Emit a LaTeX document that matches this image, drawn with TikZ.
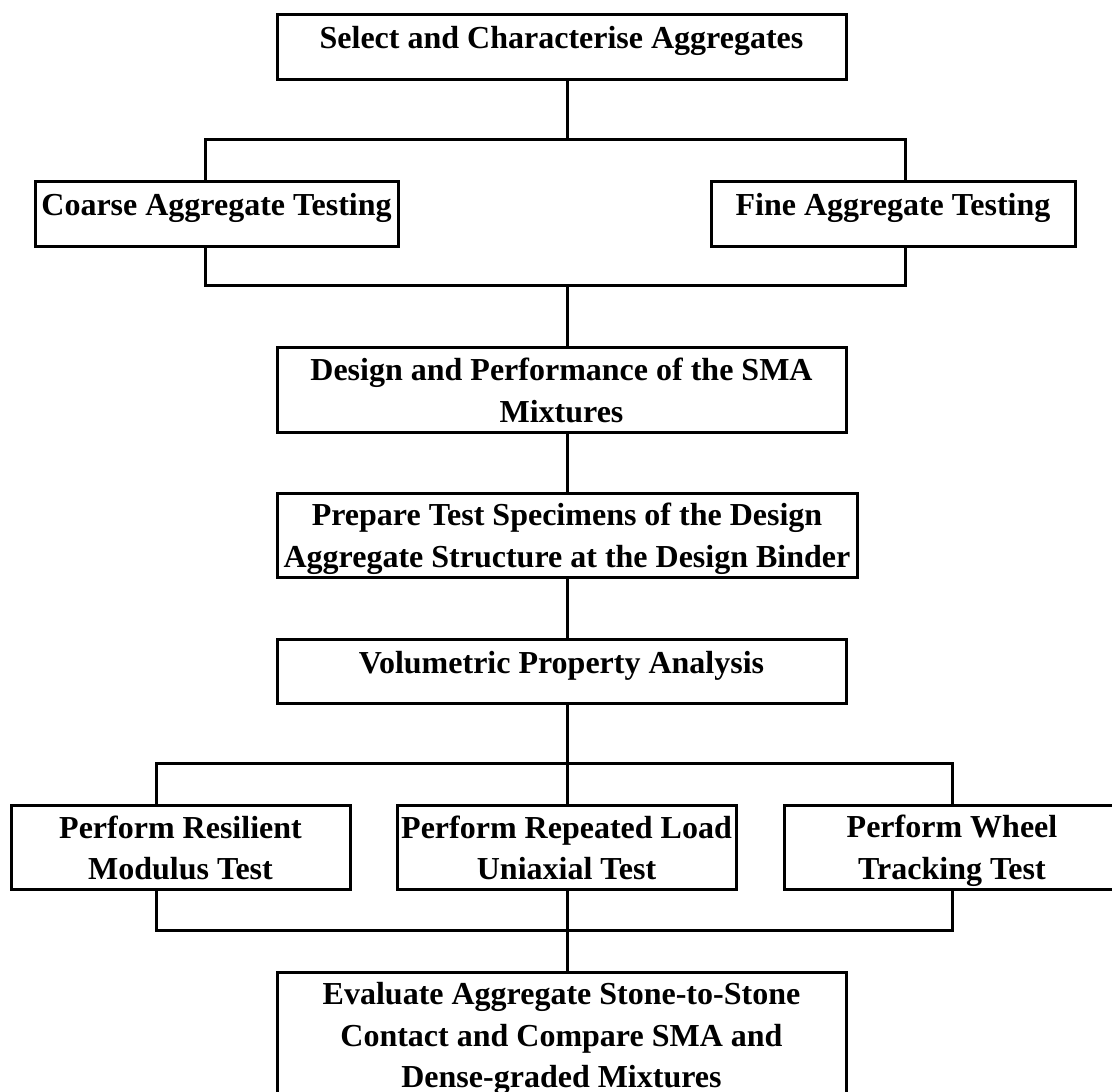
\documentclass[tikz,border=0pt]{standalone}
\usepackage{fontspec}
\setmainfont{Liberation Serif}
% uniform line strut so that every text line has the same height and depth
\newcommand\lnstrut{\rule[-6.5pt]{0pt}{36.5pt}}
\begin{document}
\begin{tikzpicture}[x=1pt,y=-1pt,
  stepbox/.style={draw=black,line width=3pt,rectangle,inner sep=2pt,
    align=center,font=\bfseries\fontsize{32}{41.5}\selectfont},
  oneline/.style={stepbox,text height=24pt,text depth=20pt},
  link/.style={line width=3pt,line cap=rect}]
\useasboundingbox (0,0) rectangle (1112,1092);
\fill[white] (0,0) rectangle (1112,1092);

% process boxes
\node[oneline,minimum width=569pt,minimum height=65pt] (select) at (561.5,46.5)
  {Select and Characterise Aggregates};
\node[oneline,minimum width=363pt,minimum height=65pt] (coarse) at (216.5,213.5)
  {Coarse Aggregate Testing};
\node[oneline,minimum width=364pt,minimum height=65pt] (fine) at (893,213.5)
  {Fine Aggregate Testing};
\node[stepbox,minimum width=569pt,minimum height=85pt] (design) at (561.5,389.5)
  {\lnstrut Design and Performance of the SMA\\\lnstrut Mixtures};
\node[stepbox,minimum width=580pt,minimum height=84pt] (prepare) at (567,535)
  {\lnstrut Prepare Test Specimens of the Design\\\lnstrut Aggregate Structure at the Design Binder};
\node[oneline,minimum width=569pt,minimum height=64pt] (volume) at (561.5,671)
  {Volumetric Property Analysis};
\node[stepbox,minimum width=339pt,minimum height=84pt] (resil) at (180.5,847)
  {\lnstrut Perform Resilient\\\lnstrut Modulus Test};
\node[stepbox,minimum width=339pt,minimum height=84pt] (repeat) at (566.5,847)
  {\lnstrut Perform Repeated Load\\\lnstrut Uniaxial Test};
\node[stepbox,minimum width=336pt,minimum height=84pt] (wheel) at (952,847)
  {\lnstrut Perform Wheel\\\lnstrut Tracking Test};
\node[stepbox,minimum width=569pt,minimum height=126pt] (evaluate) at (561.5,1035)
  {\lnstrut Evaluate Aggregate Stone-to-Stone\\\lnstrut Contact and Compare SMA and\\\lnstrut Dense-graded Mixtures};

% junction points of the branching bars
\coordinate (s1) at (567,139);
\coordinate (s1l) at (205,139);
\coordinate (s1r) at (905,139);
\coordinate (m1) at (567,285);
\coordinate (m1l) at (205,285);
\coordinate (m1r) at (905,285);
\coordinate (s2) at (567,763);
\coordinate (s2l) at (156,763);
\coordinate (s2r) at (952,763);
\coordinate (m2) at (567,930);
\coordinate (m2l) at (156,930);
\coordinate (m2r) at (952,930);

% connectors
\draw[link] (s1 |- select.south) -- (s1);
\draw[link] (coarse.north -| s1l) -- (s1l) -- (s1r) -- (fine.north -| s1r);
\draw[link] (coarse.south -| m1l) -- (m1l) -- (m1r) -- (fine.south -| m1r);
\draw[link] (m1) -- (m1 |- design.north);
\draw[link] (design.south -| m1) -- (prepare.north -| m1);
\draw[link] (prepare.south -| m1) -- (volume.north -| m1);
\draw[link] (volume.south -| s2) -- (s2);
\draw[link] (resil.north -| s2l) -- (s2l) -- (s2r) -- (wheel.north -| s2r);
\draw[link] (s2) -- (repeat.north -| s2);
\draw[link] (resil.south -| m2l) -- (m2l) -- (m2r) -- (wheel.south -| m2r);
\draw[link] (repeat.south -| m2) -- (m2);
\draw[link] (m2) -- (evaluate.north -| m2);
\end{tikzpicture}
\end{document}
